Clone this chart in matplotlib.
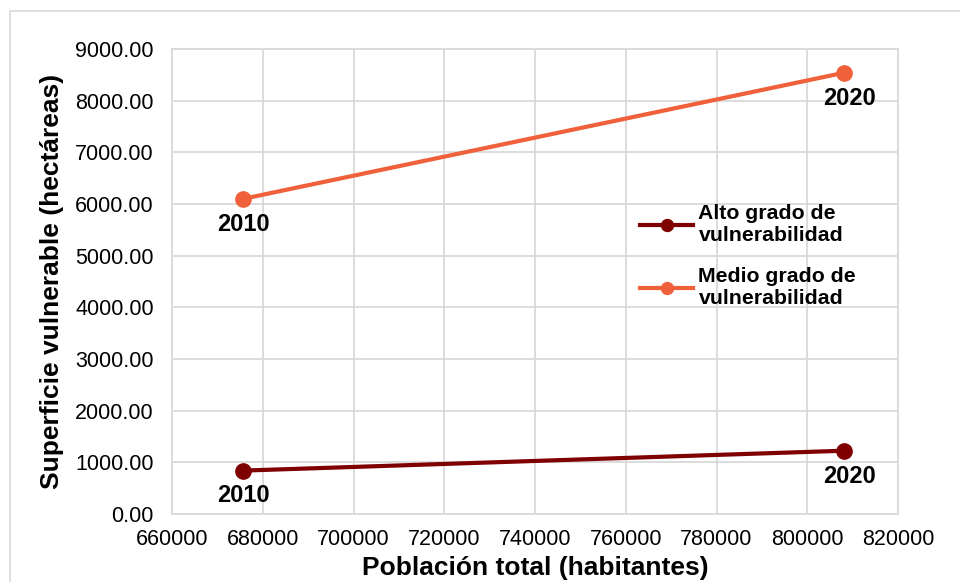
import matplotlib.pyplot as plt
from matplotlib.patches import Rectangle

plt.rcParams['font.family'] = ['Liberation Sans', 'DejaVu Sans']

# poblacion total y superficie vulnerable por grado
poblacion = [675700, 808100]
anios = ['2010', '2020']
alto = [840, 1225]
medio = [6100, 8540]

c_alto = '#7f0000'
c_medio = '#f0603a'
c_grid = '#d9d9d9'

fig = plt.figure(figsize=(9.6, 5.82), dpi=100)
ax = fig.add_axes([172/960, 1 - 514/582, (898-172)/960, (514-49)/582])

# marco exterior del grafico
fig.patches.append(Rectangle((10/960, -0.01), 1.0, 1 - 11/582 + 0.01,
                             transform=fig.transFigure, fill=False,
                             edgecolor=c_grid, linewidth=1.2))

ax.plot(poblacion, alto, color=c_alto, lw=3, marker='o', ms=11,
        label='Alto grado de\nvulnerabilidad', zorder=3)
ax.plot(poblacion, medio, color=c_medio, lw=3, marker='o', ms=11,
        label='Medio grado de\nvulnerabilidad', zorder=3)

dx = [0, 4]
for serie in (alto, medio):
    for x, y, t, d in zip(poblacion, serie, anios, dx):
        ax.annotate(t, (x, y), xytext=(d, -10), textcoords='offset points',
                    ha='center', va='top', fontsize=17, fontweight='bold')

ax.set_xlim(660000, 820000)
ax.set_ylim(0, 9000)
ax.set_xticks(range(660000, 820001, 20000))
ax.set_yticks(range(0, 9001, 1000))
ax.set_yticklabels([f'{v:.2f}' for v in range(0, 9001, 1000)])
ax.tick_params(labelsize=15.5, length=0)
ax.tick_params(axis='y', pad=13)
ax.tick_params(axis='x', pad=11)
ax.grid(True, color=c_grid, lw=1.3)
ax.set_axisbelow(True)
for s in ax.spines.values():
    s.set_color(c_grid)
    s.set_linewidth(1.3)

ax.set_xlabel('Población total (habitantes)', fontsize=19, fontweight='bold', labelpad=4)
ax.set_ylabel('Superficie vulnerable (hectáreas)', fontsize=19, fontweight='bold', labelpad=8)

ax.legend(loc='upper left', bbox_to_anchor=((640-172)/726, (514-204)/465),
          frameon=False, borderpad=0, borderaxespad=0,
          prop={'size': 15.3, 'weight': 'bold'}, handlelength=2.5,
          handletextpad=0.25, labelspacing=1.05, markerscale=0.78)

fig.savefig('out.png', dpi=100)
